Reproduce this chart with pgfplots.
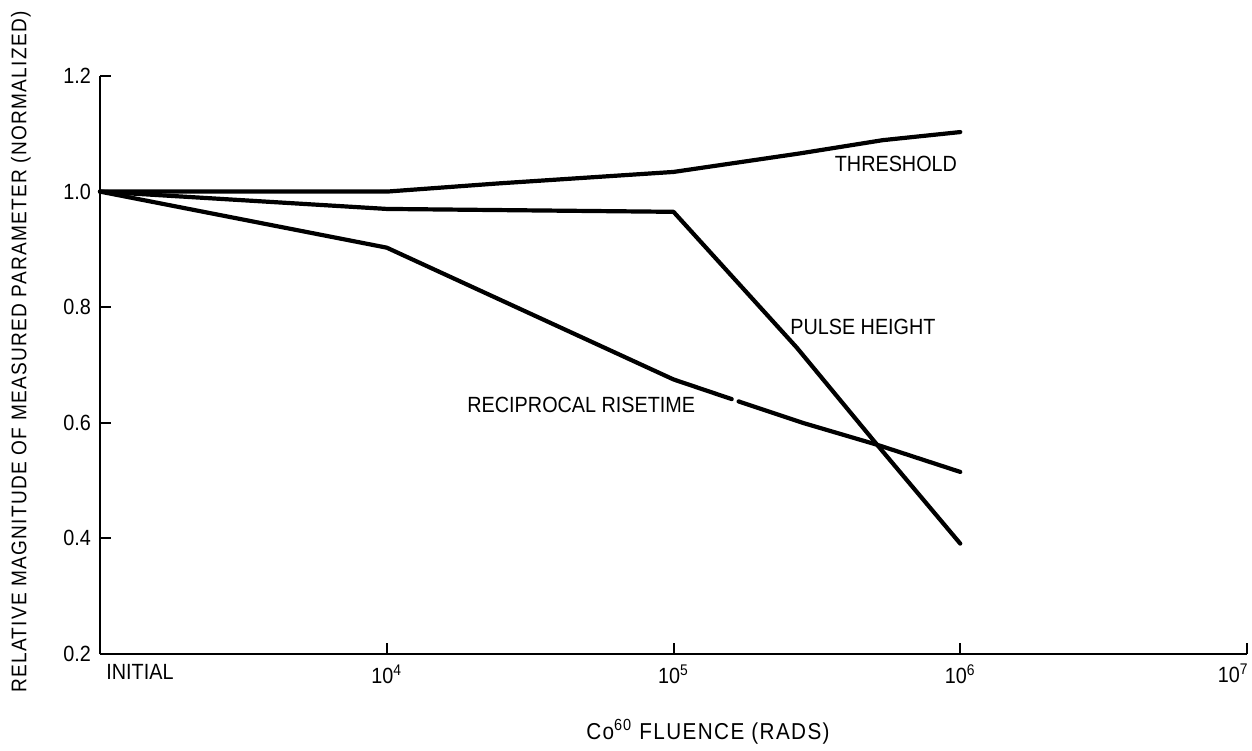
\documentclass[border=0pt]{standalone}
\usepackage{fontspec}
\setmainfont{Liberation Sans}[FakeStretch=0.9]
\newfontfamily\spaced{Liberation Sans}[FakeStretch=0.9, LetterSpace=6]
\usepackage{pgfplots}
\pgfplotsset{compat=1.18}
\begin{document}
\begin{tikzpicture}[x=1pt,y=1pt]
\useasboundingbox (0,0) rectangle (626,375);
\begin{axis}[
  at={(50pt,48pt)}, anchor=south west,
  scale only axis, width=573.5pt, height=289pt,
  xmin=3, xmax=7, ymin=0.2, ymax=1.2,
  axis x line*=bottom, axis y line*=left,
  axis line style={line width=1.3pt,-},
  xtick={3,4,5,6,7},
  xticklabels={,10\textsuperscript{4},10\textsuperscript{5},10\textsuperscript{6},},
  ytick={0.2,0.4,0.6,0.8,1.0,1.2},
  yticklabels={0.2,0.4,0.6,0.8,1.0,1.2},
  tick align=inside, major tick length=5.5pt,
  tick style={line width=1pt, black},
  font=\fontsize{11}{13}\selectfont,
  yticklabel style={xshift=-1pt},
  xticklabel style={yshift=-2pt},
  clip=false,
]
% Threshold
\addplot[black, no markers, line width=2.1pt, line cap=round, line join=round] coordinates {(3,1.0) (4,1.0) (4.385,1.014) (5,1.034) (5.44,1.066) (5.73,1.089) (6,1.103)};
% Pulse height
\addplot[black, no markers, line width=2.1pt, line cap=round, line join=round] coordinates {(3,1.0) (4,0.970) (5,0.965) (5.43,0.73) (5.71,0.562) (6,0.391)};
% Reciprocal risetime (with small gap)
\addplot[black, no markers, line width=2.1pt, line cap=round, line join=round] coordinates {(3,1.0) (4,0.903) (5,0.675) (5.203,0.641)};
\addplot[black, no markers, line width=2.1pt, line cap=round, line join=round] coordinates {(5.227,0.637) (5.45,0.60) (5.71,0.562) (6,0.515)};
\node[anchor=east, inner sep=0pt] at (axis cs:5.99,1.048) {THRESHOLD};
\node[anchor=west, inner sep=0pt] at (axis cs:5.406,0.766) {PULSE HEIGHT};
\node[anchor=west, inner sep=0pt] at (axis cs:4.28,0.631) {RECIPROCAL RISETIME};
\node[anchor=north west, inner sep=0pt] at ([xshift=3pt,yshift=-5pt]axis cs:3,0.2) {INITIAL};
\node[anchor=north east, inner sep=0pt] at ([xshift=1pt,yshift=-5pt]axis cs:7,0.2) {10\textsuperscript{7}};
\end{axis}
\node[rotate=90, inner sep=0pt, font=\fontsize{10.6}{12}\selectfont\spaced] at (10.5,199) {RELATIVE MAGNITUDE OF MEASURED PARAMETER (NORMALIZED)};
\node[inner sep=0pt, font=\fontsize{11.5}{13}\selectfont\spaced] at (354,9) {Co\textsuperscript{60} FLUENCE (RADS)};
\end{tikzpicture}
\end{document}
